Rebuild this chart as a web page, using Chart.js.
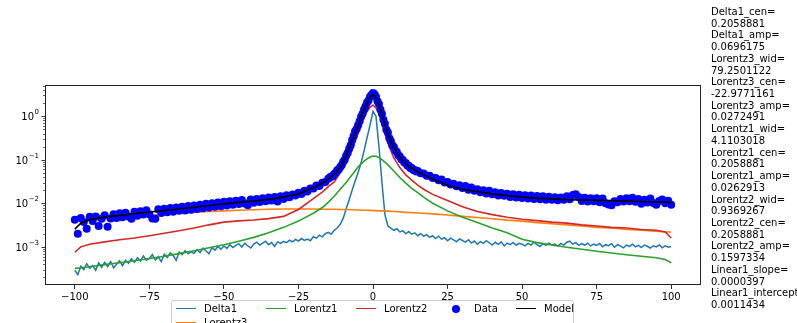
<!DOCTYPE html>
<html>
<head>
<meta charset="utf-8">
<script src="https://cdn.jsdelivr.net/npm/chart.js@4.4.0/dist/chart.umd.min.js"></script>
<style>
html, body { margin: 0; padding: 0; background: #fff; overflow: hidden; }
#wrap { position: relative; width: 797px; height: 323px; font-family: 'DejaVu Sans', sans-serif; }
#params { position: absolute; left: 711px; top: 6px; font-size: 10px; line-height: 11.72px; white-space: pre; color: #000; }
#legend { position: absolute; left: 171px; top: 300px; width: 401px; height: 40px; border: 1px solid #cccccc; border-radius: 3px; background: #fff; font-size: 10px; color: #000; }
.item { position: absolute; height: 14px; line-height: 14px; }
.handle { position: absolute; top: 6px; width: 20px; height: 0; border-top: 1.6px solid; }
.dot { position: absolute; top: 3px; width: 8px; height: 8px; border-radius: 50%; }
.lab { position: absolute; white-space: nowrap; }
</style>
</head>
<body>
<div id="wrap">
  <canvas id="chart" width="797" height="323"></canvas>
  <div id="legend"></div>
  <div id="params"></div>
</div>
<script>
// x grid for the smooth fitted components
const smoothX = [-100,-98,-95,-90,-85,-80,-75,-70,-65,-60,-55,-50,-45,-40,-35,-30,-25,-20,-17,-15,-13,-11,-9,-7,-5,-4,-3,-2,-1,0,1,2,3,4,5,7,9,11,13,15,17,20,25,30,35,40,45,50,55,60,65,70,75,80,85,90,95,98,100];

const lorentz3 = [0.0039,0.0040,0.0041,0.0044,0.0047,0.0050,0.0053,0.0056,0.0059,0.0062,0.0065,0.0067,0.0069,0.0071,0.0073,0.0074,0.0074,0.0074,0.0073,0.0073,0.0073,0.0072,0.0072,0.0071,0.0070,0.0070,0.0069,0.0069,0.0069,0.0068,0.0068,0.0067,0.0067,0.0066,0.0066,0.0065,0.0064,0.0062,0.0061,0.0060,0.0059,0.0057,0.0054,0.0050,0.0047,0.0044,0.0041,0.0039,0.0036,0.0034,0.0032,0.0030,0.0028,0.0027,0.0025,0.0024,0.0023,0.0022,0.0022];

const lorentz1 = [3.2e-4,3.3e-4,3.5e-4,3.9e-4,4.3e-4,4.8e-4,5.4e-4,6.1e-4,7.0e-4,8.1e-4,9.5e-4,1.12e-3,1.35e-3,1.65e-3,2.1e-3,2.8e-3,3.9e-3,5.9e-3,8.0e-3,0.0105,0.0145,0.021,0.030,0.045,0.068,0.080,0.093,0.105,0.115,0.122,0.120,0.113,0.100,0.088,0.076,0.055,0.039,0.029,0.022,0.0175,0.0138,0.0100,0.0067,0.0048,0.0036,0.0027,0.0021,1.5e-3,1.25e-3,1.1e-3,9.8e-4,8.8e-4,7.9e-4,7.2e-4,6.6e-4,6.1e-4,5.6e-4,5.1e-4,4.3e-4];

const lorentz2 = [7.5e-4,1.0e-3,1.15e-3,1.3e-3,1.45e-3,1.6e-3,1.8e-3,2.05e-3,2.35e-3,2.7e-3,3.2e-3,3.7e-3,3.95e-3,4.15e-3,4.45e-3,5.0e-3,7.2e-3,0.0128,0.018,0.024,0.031,0.05,0.085,0.17,0.40,0.62,0.92,1.28,1.6,1.8,1.55,1.15,0.68,0.40,0.24,0.11,0.066,0.045,0.034,0.026,0.021,0.016,0.0116,0.0083,0.0065,0.0055,0.0048,0.0043,0.0040,0.0037,0.0035,0.0032,0.0030,0.0028,0.0027,0.0025,0.0024,0.0022,0.0016];

const model = [2.55e-3,3.5e-3,4.2e-3,4.8e-3,5.3e-3,5.8e-3,6.3e-3,6.8e-3,7.4e-3,8.1e-3,8.9e-3,9.7e-3,0.0105,0.0113,0.0123,0.0138,0.0165,0.023,0.029,0.036,0.046,0.066,0.12,0.28,0.6,0.95,1.4,2.0,2.7,3.2,2.7,1.85,1.1,0.65,0.4,0.19,0.115,0.08,0.062,0.052,0.045,0.036,0.026,0.021,0.0185,0.0165,0.015,0.0138,0.0131,0.0126,0.0122,0.0119,0.0117,0.0115,0.0112,0.011,0.0108,0.0106,0.0104];

// measured points: unit steps in the wings, half steps across the peak
const dataX = [
  -100,-99,-98,-97,-96,-95,-94,-93,-92,-91,-90,-89,-88,-87,-86,-85,-84,-83,-82,-81,
  -80,-79,-78,-77,-76,-75,-74,-73,-72,-71,-70,-69,-68,-67,-66,-65,-64,-63,-62,-61,
  -60,-59,-58,-57,-56,-55,-54,-53,-52,-51,-50,-49,-48,-47,-46,-45,-44,-43,-42,-41,
  -40,-39,-38,-37,-36,-35,-34,-33,-32,-31,-30,-29,-28,-27,-26,-25,-24,-23,-22,-21,
  -20,-19,-18,-17,-16,-15,
  -14.5,-14,-13.5,-13,-12.5,-12,-11.5,-11,-10.5,-10,-9.5,-9,-8.5,-8,-7.5,-7,-6.5,-6,-5.5,-5,
  -4.5,-4,-3.5,-3,-2.5,-2,-1.5,-1,-0.5,0,0.5,1,1.5,2,2.5,3,3.5,4,4.5,5,
  5.5,6,6.5,7,7.5,8,8.5,9,9.5,10,10.5,11,11.5,12,12.5,13,13.5,14,14.5,
  15,16,17,18,19,20,21,22,23,24,25,26,27,28,29,30,31,32,33,34,
  35,36,37,38,39,40,41,42,43,44,45,46,47,48,49,50,51,52,53,54,
  55,56,57,58,59,60,61,62,63,64,65,66,67,68,69,70,71,72,73,74,
  75,76,77,78,79,80,81,82,83,84,85,86,87,88,89,90,91,92,93,94,
  95,96,97,98,99,100];

const dataY = [
  4.2e-3,2.0e-3,4.6e-3,3.7e-3,2.6e-3,4.9e-3,3.9e-3,5.0e-3,3.0e-3,4.4e-3,
  5.3e-3,2.9e-3,4.5e-3,5.6e-3,4.6e-3,5.9e-3,4.8e-3,6.1e-3,5.0e-3,4.4e-3,
  6.4e-3,5.2e-3,6.6e-3,5.5e-3,6.9e-3,5.6e-3,4.5e-3,4.4e-3,7.3e-3,6.0e-3,
  7.5e-3,6.2e-3,7.8e-3,6.4e-3,8.0e-3,6.7e-3,8.3e-3,6.8e-3,8.7e-3,7.1e-3,
  8.9e-3,7.4e-3,9.3e-3,7.7e-3,9.7e-3,8.0e-3,0.0100,8.3e-3,0.0104,8.6e-3,
  0.0108,8.9e-3,0.0112,9.2e-3,0.0115,9.6e-3,0.0119,9.9e-3,9.0e-3,0.0122,
  0.0103,0.0126,0.0107,0.0130,0.0111,0.0135,0.0116,0.0140,0.0110,0.0146,
  0.0126,0.0152,0.0138,0.0160,0.0150,0.0175,0.0164,0.0193,0.0186,0.0218,
  0.0220,0.0255,0.0250,0.0295,0.0310,0.0365,
  0.039,0.041,0.042,0.047,0.050,0.057,0.060,0.068,0.075,0.090,
  0.100,0.123,0.142,0.178,0.215,0.285,0.35,0.45,0.51,0.62,
  0.76,0.97,1.13,1.43,1.68,2.05,2.3,2.8,3.05,3.4,
  3.2,2.8,2.2,1.9,1.42,1.13,0.83,0.67,0.49,0.42,
  0.31,0.27,0.215,0.195,0.163,0.150,0.126,0.119,0.103,0.098,
  0.086,0.084,0.074,0.073,0.065,0.065,0.058,0.058,0.054,
  0.055,0.049,0.048,0.043,0.043,0.038,0.038,0.034,0.035,0.030,
  0.031,0.027,0.028,0.0245,0.026,0.0225,0.025,0.0205,0.023,0.0195,
  0.0210,0.0180,0.0200,0.0168,0.0195,0.0162,0.0180,0.0150,0.0172,0.0148,
  0.0166,0.0140,0.0162,0.0136,0.0158,0.0132,0.0152,0.0128,0.0150,0.0126,
  0.0147,0.0123,0.0145,0.0120,0.0142,0.0121,0.0138,0.0118,0.0136,0.0120,
  0.0145,0.0124,0.0155,0.0162,0.0140,0.0113,0.0134,0.0110,0.0131,0.0112,
  0.0130,0.0106,0.0128,0.0100,0.0094,0.0090,0.0112,0.0106,0.0126,0.0110,
  0.0130,0.0112,0.0134,0.0108,0.0125,0.0097,0.0120,0.0104,0.0128,0.0102,
  0.0092,0.0113,0.0122,0.0100,0.0115,0.0093];

const deltaX = [-100,-99,-98,-97,-96,-95,-94,-93,-92,-91,-90,-89,-88,-87,-86,-85,-84,-83,-82,-81,-80,-79,-78,-77,-76,-75,-74,-73,-72,-71,-70,-69,-68,-67,-66,-65,-64,-63,-62,-61,-60,-59,-58,-57,-56,-55,-54,-53,-52,-51,-50,-49,-48,-47,-46,-45,-44,-43,-42,-41,-40,-39,-38,-37,-36,-35,-34,-33,-32,-31,-30,-29,-28,-27,-26,-25,-24,-23,-22,-21,-20,-19,-18,-17,-16,-15,-14,-13,-12,-11,-10,-9,-8,-7,-6,-5,-4,-3,-2,-1,0,1,2,3,4,5,6,7,8,9,10,11,12,13,14,15,16,17,18,19,20,21,22,23,24,25,26,27,28,29,30,31,32,33,34,35,36,37,38,39,40,41,42,43,44,45,46,47,48,49,50,51,52,53,54,55,56,57,58,59,60,61,62,63,64,65,66,67,68,69,70,71,72,73,74,75,76,77,78,79,80,81,82,83,84,85,86,87,88,89,90,91,92,93,94,95,96,97,98,99,100];

const delta1 = [
  2.9e-4,2.3e-4,3.6e-4,3.0e-4,4.1e-4,3.2e-4,3.7e-4,2.9e-4,4.3e-4,3.4e-4,
  4.4e-4,3.5e-4,4.6e-4,3.3e-4,4.0e-4,4.8e-4,3.7e-4,4.9e-4,4.2e-4,5.3e-4,
  4.4e-4,5.6e-4,4.7e-4,6.2e-4,4.9e-4,5.4e-4,6.6e-4,5.0e-4,5.9e-4,4.6e-4,
  6.8e-4,5.7e-4,7.3e-4,6.3e-4,4.9e-4,7.6e-4,6.6e-4,8.2e-4,6.9e-4,7.7e-4,
  7.1e-4,8.6e-4,7.4e-4,9.3e-4,8.0e-4,6.9e-4,9.6e-4,8.4e-4,1.02e-3,8.8e-4,
  1.05e-3,9.2e-4,1.12e-3,9.6e-4,1.08e-3,1.18e-3,9.9e-4,1.2e-3,1.06e-3,9.4e-4,
  1.16e-3,1.28e-3,1.1e-3,1.22e-3,1.35e-3,1.12e-3,1.26e-3,1.02e-3,1.3e-3,1.2e-3,
  1.33e-3,1.25e-3,1.42e-3,1.3e-3,1.48e-3,1.36e-3,1.55e-3,1.4e-3,1.5e-3,1.38e-3,
  1.7e-3,1.58e-3,1.85e-3,1.7e-3,2.0e-3,2.15e-3,1.95e-3,2.4e-3,2.7e-3,3.3e-3,
  4.5e-3,7.5e-3,0.012,0.02,0.032,0.05,0.085,0.16,0.32,0.62,
  1.3,1.0,0.2,0.03,5.5e-3,3.0e-3,2.7e-3,2.4e-3,2.6e-3,2.2e-3,
  2.35e-3,2.0e-3,2.25e-3,1.95e-3,2.1e-3,1.8e-3,2.0e-3,1.75e-3,1.9e-3,1.65e-3,
  1.8e-3,1.55e-3,1.75e-3,1.5e-3,1.62e-3,1.38e-3,1.58e-3,1.45e-3,1.3e-3,1.52e-3,
  1.4e-3,1.28e-3,1.45e-3,1.22e-3,1.36e-3,1.15e-3,1.32e-3,1.2e-3,1.38e-3,1.24e-3,
  1.1e-3,1.27e-3,1.14e-3,1.3e-3,1.05e-3,1.22e-3,1.12e-3,1.26e-3,1.08e-3,1.2e-3,
  1.15e-3,1.05e-3,1.2e-3,1.1e-3,1.28e-3,1.12e-3,1.02e-3,1.18e-3,1.08e-3,1.22e-3,
  1.1e-3,1.16e-3,1.04e-3,1.2e-3,1.1e-3,1.28e-3,1.35e-3,1.15e-3,1.25e-3,1.08e-3,
  1.18e-3,1.1e-3,1.22e-3,1.05e-3,1.15e-3,1.08e-3,1.2e-3,1.0e-3,1.12e-3,1.06e-3,
  1.18e-3,0.98e-3,1.12e-3,1.04e-3,0.95e-3,1.1e-3,1.02e-3,1.15e-3,1.0e-3,1.08e-3,
  0.96e-3,1.1e-3,1.03e-3,0.94e-3,1.06e-3,1.0e-3,1.1e-3,0.95e-3,1.05e-3,0.98e-3,
  1.02e-3];

const xTicks = [-100, -75, -50, -25, 0, 25, 50, 75, 100];
const yDecades = [-4, -3, -2, -1, 0];
const yLabelled = [-3, -2, -1, 0];

const paramLines = [
  'Delta1_cen=', '0.2058881', 'Delta1_amp=', '0.0696175',
  'Lorentz3_wid=', '79.2501122', 'Lorentz3_cen=', '-22.9771161',
  'Lorentz3_amp=', '0.0272491', 'Lorentz1_wid=', '4.1103018',
  'Lorentz1_cen=', '0.2058881', 'Lorentz1_amp=', '0.0262913',
  'Lorentz2_wid=', '0.9369267', 'Lorentz2_cen=', '0.2058881',
  'Lorentz2_amp=', '0.1597334', 'Linear1_slope=', '0.0000397',
  'Linear1_intercept=', '0.0011434'
];

document.getElementById('params').textContent = paramLines.join('\n');

// legend, laid out like the matplotlib one (5 columns, Lorentz3 wraps)
const legendItems = [
  { label: 'Delta1', color: '#1f77b4', left: 4, row: 0 },
  { label: 'Lorentz1', color: '#2ca02c', left: 94, row: 0 },
  { label: 'Lorentz2', color: '#d62728', left: 184, row: 0 },
  { label: 'Data', color: '#0000ff', left: 274, row: 0, dot: true },
  { label: 'Model', color: '#000000', left: 344, row: 0 },
  { label: 'Lorentz3', color: '#ff7f0e', left: 4, row: 1 }
];
const legendEl = document.getElementById('legend');
legendItems.forEach(it => {
  const d = document.createElement('div');
  d.className = 'item';
  d.style.left = it.left + 'px';
  d.style.top = (1 + it.row * 14) + 'px';
  const h = document.createElement('div');
  if (it.dot) {
    h.className = 'dot';
    h.style.left = '6px';
    h.style.background = it.color;
  } else {
    h.className = 'handle';
    h.style.left = '0px';
    h.style.borderColor = it.color;
  }
  const l = document.createElement('div');
  l.className = 'lab';
  l.style.left = '28px';
  l.textContent = it.label;
  d.appendChild(h);
  d.appendChild(l);
  legendEl.appendChild(d);
});

const smooth = arr => smoothX.map((x, i) => ({ x: x, y: arr[i] }));
const pairs = (xs, ys) => xs.map((x, i) => ({ x: x, y: ys[i] }));

const logAxis = {
  id: 'logAxis',
  afterDraw(chart) {
    const ctx = chart.ctx;
    const y = chart.scales.y;
    const a = chart.chartArea;
    ctx.save();
    ctx.strokeStyle = '#000';
    ctx.fillStyle = '#000';
    ctx.lineWidth = 0.6;
    yDecades.forEach(k => {
      for (let m = 2; m <= 9; m++) {
        const v = m * Math.pow(10, k);
        if (v < y.min || v > y.max) continue;
        const py = Math.round(y.getPixelForValue(v)) + 0.5;
        ctx.beginPath();
        ctx.moveTo(a.left - 2, py);
        ctx.lineTo(a.left, py);
        ctx.stroke();
      }
    });
    ctx.lineWidth = 0.8;
    yLabelled.forEach(k => {
      const py = Math.round(y.getPixelForValue(Math.pow(10, k))) + 0.5;
      ctx.beginPath();
      ctx.moveTo(a.left - 3.5, py);
      ctx.lineTo(a.left, py);
      ctx.stroke();
      const exp = (k < 0 ? '\u2212' : '') + Math.abs(k);
      ctx.textAlign = 'right';
      ctx.textBaseline = 'middle';
      ctx.font = '7px "DejaVu Sans"';
      const ew = ctx.measureText(exp).width;
      ctx.fillText(exp, 39, py - 4);
      ctx.font = '10px "DejaVu Sans"';
      ctx.fillText('10', 39 - ew - 0.5, py + 1);
    });
    ctx.lineWidth = 1;
    ctx.strokeStyle = '#222';
    ctx.strokeRect(Math.round(a.left) + 0.5, Math.round(a.top) + 0.5,
      Math.round(a.right - a.left) - 1, Math.round(a.bottom - a.top) - 1);
    ctx.restore();
  }
};

new Chart(document.getElementById('chart'), {
  type: 'line',
  data: {
    datasets: [
      { label: 'Delta1', data: pairs(deltaX, delta1), borderColor: '#1f77b4', borderWidth: 1.5, pointRadius: 0, order: 6 },
      { label: 'Lorentz3', data: smooth(lorentz3), borderColor: '#ff7f0e', borderWidth: 1.6, pointRadius: 0, order: 5 },
      { label: 'Lorentz1', data: smooth(lorentz1), borderColor: '#2ca02c', borderWidth: 1.6, pointRadius: 0, order: 4 },
      { label: 'Lorentz2', data: smooth(lorentz2), borderColor: '#d62728', borderWidth: 1.6, pointRadius: 0, order: 3 },
      { label: 'Data', data: pairs(dataX, dataY), showLine: false, pointRadius: 4, pointBorderWidth: 0,
        pointBackgroundColor: '#0000ff', borderColor: '#0000ff', order: 2 },
      { label: 'Model', data: smooth(model), borderColor: '#000000', borderWidth: 1.7, pointRadius: 0, order: 1 }
    ]
  },
  options: {
    responsive: false,
    animation: false,
    devicePixelRatio: 1,
    layout: { padding: { left: 0, right: 96, top: 85, bottom: 0 } },
    plugins: { legend: { display: false }, tooltip: { enabled: false } },
    elements: { line: { tension: 0 } },
    scales: {
      x: {
        type: 'linear',
        min: -110,
        max: 110,
        afterBuildTicks: s => { s.ticks = xTicks.map(v => ({ value: v })); },
        afterFit: s => { s.height = 38; },
        grid: { display: true, drawOnChartArea: false, drawTicks: true, tickLength: 4, color: '#000', lineWidth: 0.8 },
        border: { display: false },
        ticks: {
          color: '#000',
          padding: 2,
          maxRotation: 0,
          font: { family: 'DejaVu Sans', size: 10 },
          callback: v => (v < 0 ? '\u2212' + Math.abs(v) : String(v))
        }
      },
      y: {
        type: 'logarithmic',
        min: 1.33e-4,
        max: 5.2,
        afterFit: s => { s.width = 45; },
        grid: { display: false },
        border: { display: false },
        ticks: { display: false }
      }
    }
  },
  plugins: [logAxis]
});
</script>
</body>
</html>
